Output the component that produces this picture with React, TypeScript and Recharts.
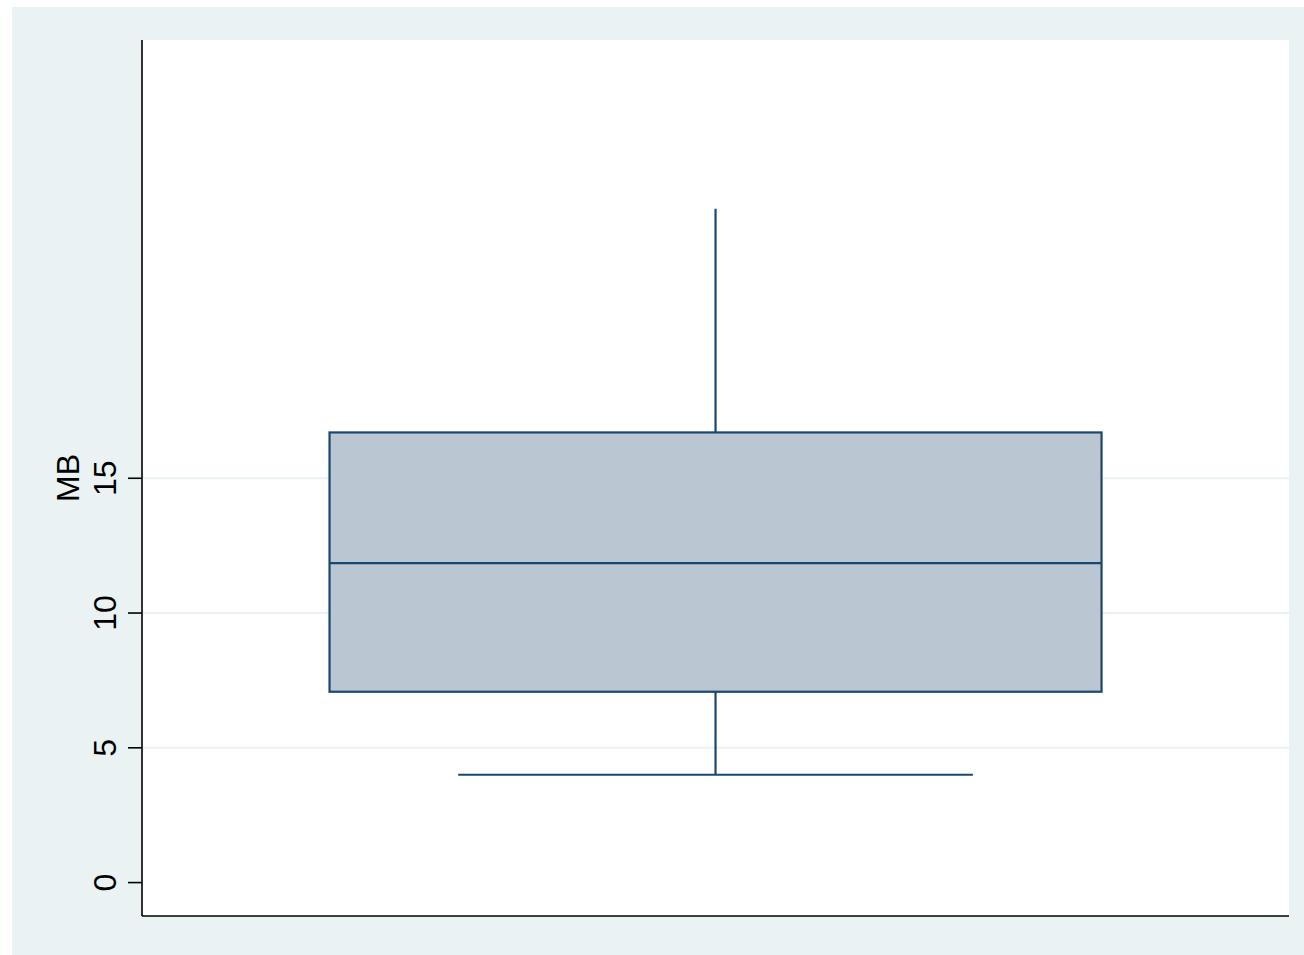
import React from "react";
import { ComposedChart, Bar, XAxis, YAxis, CartesianGrid } from "recharts";

const categories = ["MB"];
const minValues = [4.0];
const q1Values = [7.08];
const medianValues = [11.85];
const q3Values = [16.7];
const maxValues = [25.0];
const yTicks = [0, 5, 10, 15];
const gridValues = [5, 10, 15];
const yDomain = [-1.24, 31.26];

const data = categories.map((name, i) => ({
  name,
  min: minValues[i],
  q1: q1Values[i],
  median: medianValues[i],
  q3: q3Values[i],
  max: maxValues[i],
  box: [q1Values[i], q3Values[i]],
}));

const NAVY = "#1A476F";
const FILL = "#BAC7D2";
const BG = "#EAF2F3";

const BoxShape = (props: any) => {
  const { x, y, width, height, payload } = props;
  const { min, q1, median, q3, max } = payload;
  const px = (v: number) => y + ((q3 - v) / (q3 - q1)) * height;
  const cx = x + width / 2;
  const capHalf = width / 3;
  return (
    <g>
      <line x1={cx} x2={cx} y1={px(q3)} y2={px(max)} stroke={NAVY} strokeWidth={2.2} />
      <line x1={cx} x2={cx} y1={px(q1)} y2={px(min)} stroke={NAVY} strokeWidth={2.2} />
      <line x1={cx - capHalf} x2={cx + capHalf} y1={px(min)} y2={px(min)} stroke={NAVY} strokeWidth={2.2} />
      <rect x={x} y={y} width={width} height={height} fill={FILL} stroke={NAVY} strokeWidth={2.2} />
      <line x1={x} x2={x + width} y1={px(median)} y2={px(median)} stroke={NAVY} strokeWidth={2.2} />
    </g>
  );
};

const YTick = (props: any) => {
  const { x, y, payload } = props;
  return (
    <text
      x={x}
      y={y}
      transform={`rotate(-90, ${x}, ${y})`}
      textAnchor="middle"
      fill="#000"
      fontSize={32}
      fontFamily="'Liberation Sans', Arial, Helvetica, sans-serif"
    >
      {payload.value}
    </text>
  );
};

const YLabel = (props: any) => {
  const vb = props.viewBox || {};
  const lx = (vb.x || 0) + 67;
  const ly = (vb.y || 0) + (vb.height || 0) / 2;
  return (
    <text
      x={lx}
      y={ly}
      transform={`rotate(-90, ${lx}, ${ly})`}
      textAnchor="middle"
      fill="#000"
      fontSize={32}
      fontFamily="'Liberation Sans', Arial, Helvetica, sans-serif"
    >
      MB
    </text>
  );
};

export default function App() {
  return (
    <div style={{ position: "absolute", left: 0, top: 0, width: 1304, height: 955, background: "#fff", overflow: "hidden" }}>
      <div style={{ position: "absolute", left: 12, top: 7, width: 1292, height: 948, background: BG }}>
        <ComposedChart
          width={1292}
          height={948}
          data={data}
          margin={{ top: 33, right: 15, bottom: 38, left: 0 }}
          barCategoryGap="16.35%"
        >
          <CartesianGrid
            vertical={false}
            horizontal={true}
            horizontalValues={gridValues}
            stroke={BG}
            strokeWidth={2}
            fill="#ffffff"
            fillOpacity={1}
          />
          <XAxis
            dataKey="name"
            tick={false}
            tickLine={false}
            height={1}
            axisLine={{ stroke: "#000", strokeWidth: 1.6 }}
          />
          <YAxis
            type="number"
            domain={yDomain}
            ticks={yTicks}
            allowDataOverflow
            width={130}
            tickSize={14}
            tickMargin={12}
            tick={<YTick />}
            tickLine={{ stroke: "#000", strokeWidth: 1.6 }}
            axisLine={{ stroke: "#000", strokeWidth: 1.6 }}
            label={<YLabel />}
          />
          <Bar dataKey="box" shape={<BoxShape />} isAnimationActive={false} />
        </ComposedChart>
      </div>
    </div>
  );
}
